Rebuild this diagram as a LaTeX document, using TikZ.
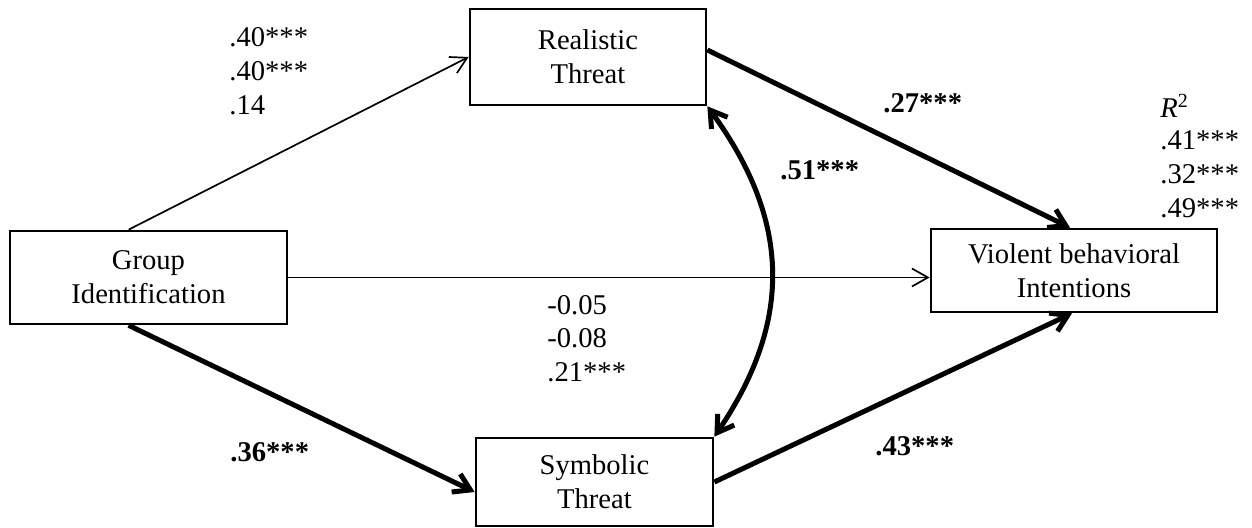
\documentclass[tikz,border=0pt]{standalone}
\usepackage{fontspec}
\setmainfont{Liberation Serif}
\usetikzlibrary{arrows.meta}
\newcommand\dfont{\fontsize{14.3pt}{17pt}\selectfont}
\begin{document}
\begin{tikzpicture}[x=0.5pt,y=-0.5pt,
  box/.style={draw,line width=1.35pt,inner sep=0pt,align=center,font=\dfont},
  lab/.style={anchor=base west,inner sep=0pt,font=\dfont},
  blab/.style={anchor=base west,inner sep=0pt,font=\dfont\bfseries},
  thinarr/.style={line width=0.85pt,-{Straight Barb[length=8pt,width=9pt]}},
  thickarr/.style={line width=2.5pt,-{Straight Barb[length=8pt,width=10pt]}},
  dblarr/.style={line width=2.5pt,{Straight Barb[length=8pt,width=10pt]}-{Straight Barb[length=8pt,width=10pt]}}]
\useasboundingbox[fill=white] (0,0) rectangle (1252,528);

\node[box,minimum width=138.5pt,minimum height=46.5pt] (gi) at (148.5,277.5) {Group\\Identification};
\node[box,minimum width=118pt,minimum height=48pt] (rt) at (588,57) {Realistic\\Threat};
\node[box,minimum width=118.5pt,minimum height=44pt] (st) at (594.5,482) {Symbolic\\Threat};
\node[box,minimum width=143pt,minimum height=41.5pt] (vbi) at (1074,270.5) {Violent behavioral\\Intentions};

\draw[thinarr] ([xshift=60pt]gi.north west) -- (rt.west);
\draw[thinarr] (gi.east) -- (gi.east -| vbi.west);
\draw[thickarr] ([xshift=60pt]gi.south west) -- ([yshift=-5pt]st.west);
\draw[thickarr] ([yshift=3.5pt]rt.east) -- ([xshift=-2pt]vbi.north);
\draw[thickarr] (st.east) -- ([xshift=-1pt]vbi.south);
\draw[dblarr] (rt.south east) .. controls +(84,115) and +(78,-115) .. (st.north east);

\node[lab] (a1) at (229,47) {.40***};
\node[lab] (a2) at (229,81) {.40***};
\node[lab] (a3) at (229,115) {.14};

\node[lab] (c1) at (547,315) {-0.05};
\node[lab] (c2) at (547,348) {-0.08};
\node[lab] (c3) at (547,382) {.21***};

\node[lab] (r0) at (1160,118) {\textit{R}\textsuperscript{2}};
\node[lab] (r1) at (1160,150) {.41***};
\node[lab] (r2) at (1160,184) {.32***};
\node[lab] (r3) at (1160,218) {.49***};

\node[blab] (b1) at (883,113) {.27***};
\node[blab] (b2) at (780,180) {.51***};
\node[blab] (b3) at (230,462) {.36***};
\node[blab] (b4) at (875,456) {.43***};
\end{tikzpicture}
\end{document}
